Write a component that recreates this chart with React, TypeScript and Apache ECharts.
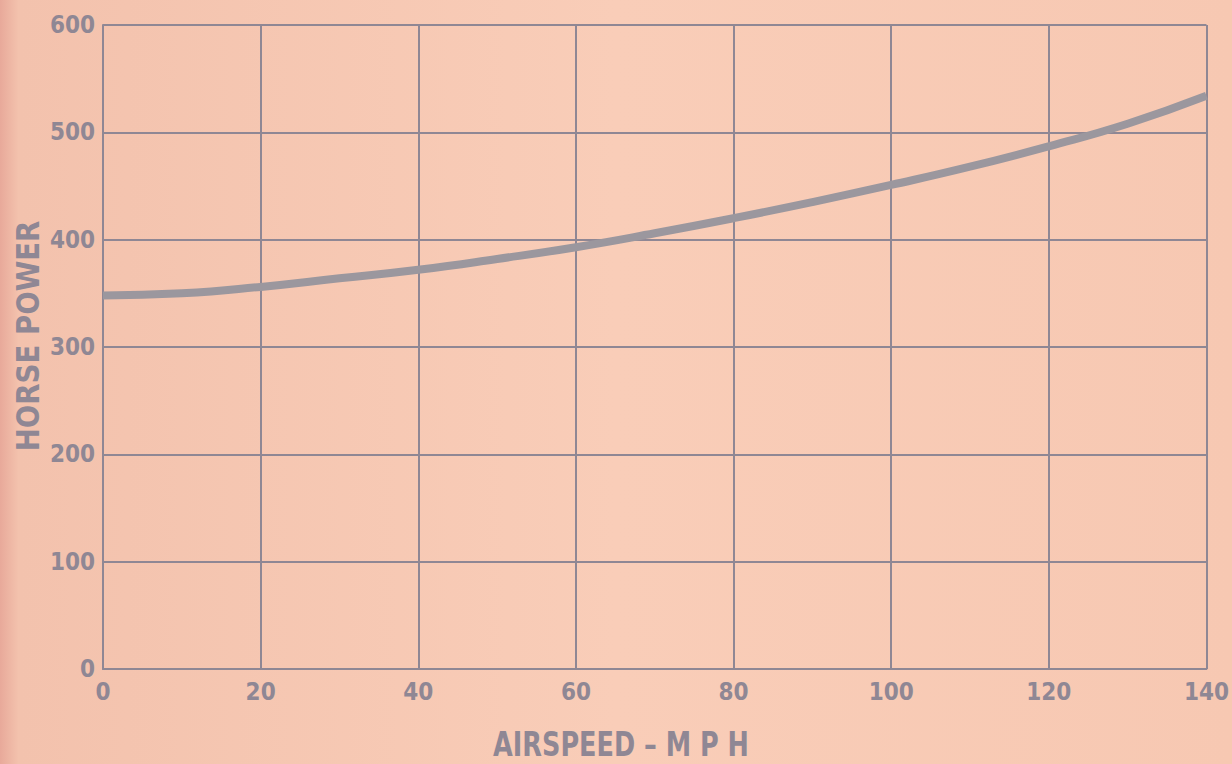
import React, { useEffect, useRef } from "react";
import * as echarts from "echarts";

const airspeed = [0, 10, 20, 30, 40, 50, 60, 70, 80, 90, 100, 110, 120, 130, 140];
const horsepower = [348, 350, 356, 364, 372, 382, 393, 406, 420, 435, 451, 468, 487, 508, 534];
const xTicks = [0, 20, 40, 60, 80, 100, 120, 140];
const yTicks = [0, 100, 200, 300, 400, 500, 600];
const xTitle = "AIRSPEED – M P H";
const yTitle = "HORSE POWER";

const FONT = "'DejaVu Sans Condensed', 'Liberation Sans Narrow', sans-serif";
const INK = "#8f8794";

export default function App() {
  const ref = useRef<HTMLDivElement>(null);
  useEffect(() => {
    if (!ref.current) return;
    const chart = echarts.init(ref.current, null, { renderer: "svg" });
    chart.setOption({
      animation: false,
      backgroundColor: {
        type: "linear",
        x: 0, y: 0, x2: 1, y2: 0,
        colorStops: [
          { offset: 0, color: "#e8a99a" },
          { offset: 0.015, color: "#f3c2ad" },
          { offset: 0.5, color: "#f9cdb8" },
          { offset: 1, color: "#f7c8b2" },
        ],
      },
      graphic: [
        {
          type: "text",
          x: 621,
          y: 744,
          scaleX: 0.86,
          style: {
            text: xTitle,
            fill: INK,
            font: `bold 33px ${FONT}`,
            textAlign: "center",
            textVerticalAlign: "middle",
          },
        },
        {
          type: "text",
          x: 28,
          y: 336,
          rotation: Math.PI / 2,
          scaleX: 0.96,
          style: {
            text: yTitle,
            fill: INK,
            font: `bold 32px ${FONT}`,
            textAlign: "center",
            textVerticalAlign: "middle",
          },
        },
      ],
      grid: { left: 103, right: 16, top: 25, bottom: 95, containLabel: false },
      xAxis: {
        type: "value",
        min: 0,
        max: 140,
        interval: 20,
        axisLine: { show: true, lineStyle: { color: INK, width: 2 } },
        axisTick: { show: false },
        axisLabel: {
          color: INK, fontFamily: FONT, fontWeight: "bold", fontSize: 24, margin: 11,
          formatter: (v: number) => (xTicks.includes(v) ? String(v) : ""),
        },
        splitLine: { show: true, lineStyle: { color: INK, width: 2 } },
      },
      yAxis: {
        type: "value",
        min: 0,
        max: 600,
        interval: 100,
        axisLine: { show: true, lineStyle: { color: INK, width: 2 } },
        axisTick: { show: false },
        axisLabel: {
          color: INK, fontFamily: FONT, fontWeight: "bold", fontSize: 24, margin: 8,
          formatter: (v: number) => (yTicks.includes(v) ? String(v) : ""),
        },
        splitLine: { show: true, lineStyle: { color: INK, width: 2 } },
      },
      series: [
        {
          type: "line",
          data: airspeed.map((x, i) => [x, horsepower[i]]),
          smooth: true,
          showSymbol: false,
          lineStyle: { color: "#9b979e", width: 8, cap: "butt" },
        },
      ],
    });
    return () => chart.dispose();
  }, []);
  return (
    <div
      ref={ref}
      style={{ position: "fixed", left: 0, top: 0, width: 1232, height: 764 }}
    />
  );
}
